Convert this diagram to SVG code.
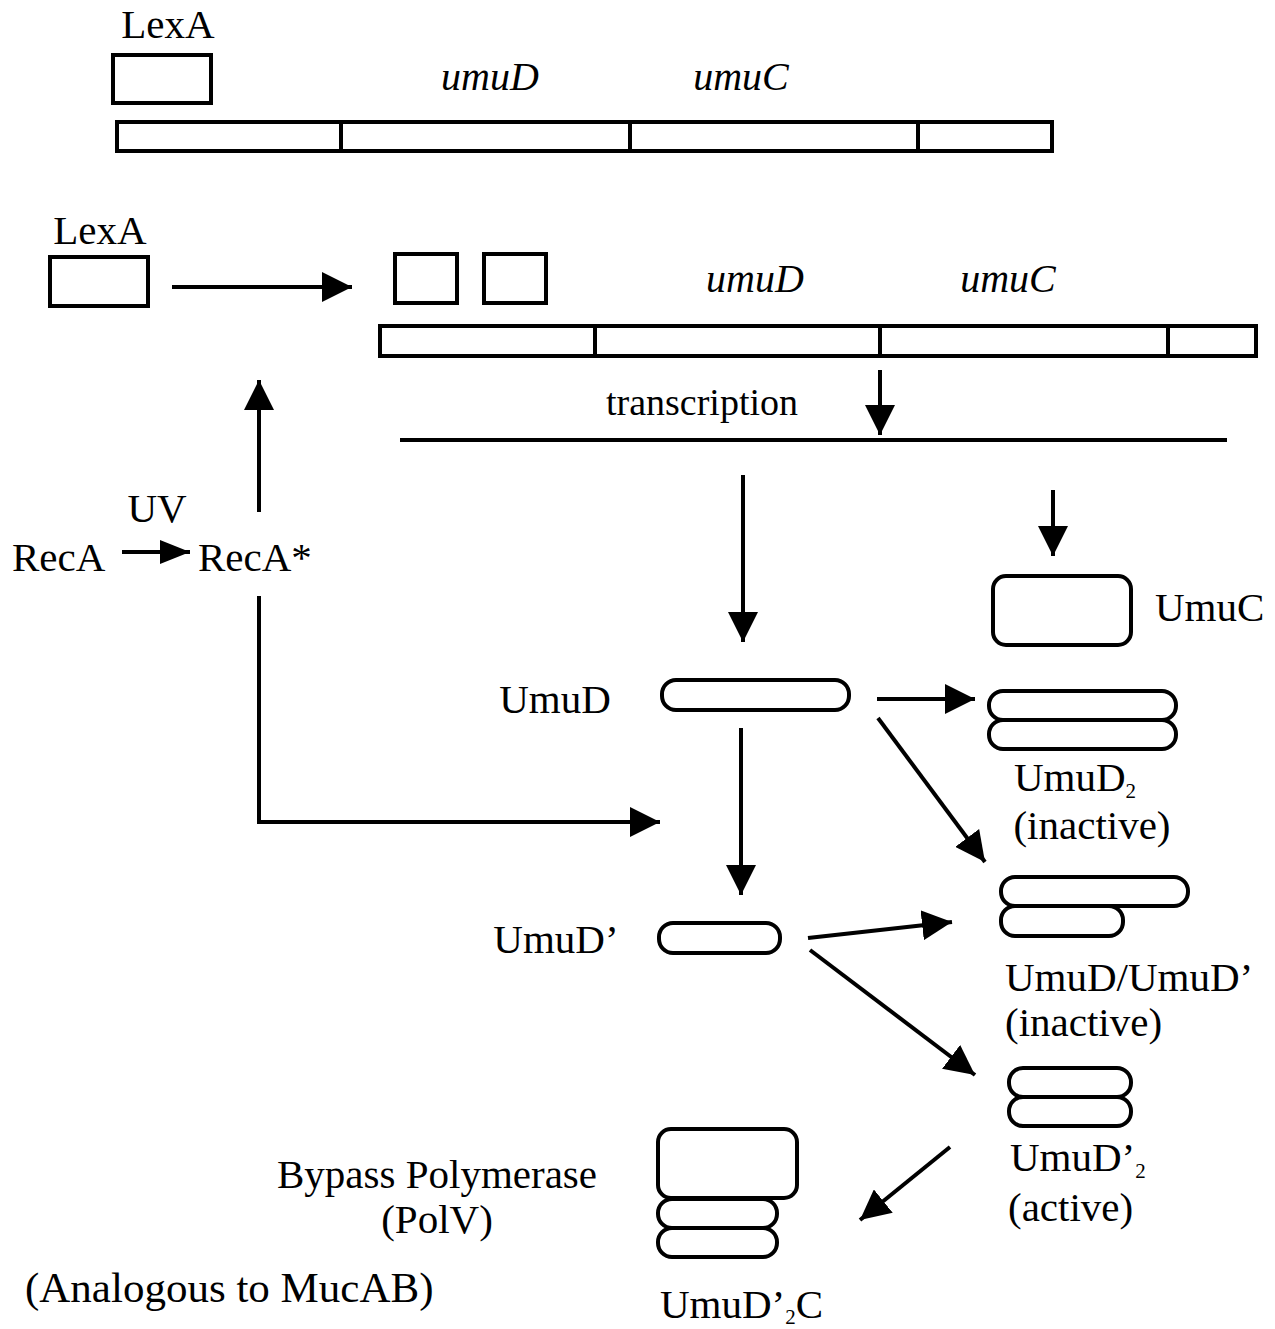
<svg xmlns="http://www.w3.org/2000/svg" width="1275" height="1329" viewBox="0 0 1275 1329">
  <defs>
    <marker id="head" viewBox="0 0 30 30" refX="30" refY="15" markerWidth="30" markerHeight="30" markerUnits="userSpaceOnUse" orient="auto">
      <path d="M0,0 L30,15 L0,30 Z" fill="#000"/>
    </marker>
    <marker id="headS" viewBox="0 0 30 24" refX="30" refY="12" markerWidth="30" markerHeight="24" markerUnits="userSpaceOnUse" orient="auto">
      <path d="M0,0 L30,12 L0,24 Z" fill="#000"/>
    </marker>
  </defs>
  <style>
    text { font-family: "Liberation Serif", "Times New Roman", serif; font-size: 41px; fill: #000; }
    .it { font-style: italic; font-size: 40px; }
    .mid { text-anchor: middle; }
    .small { font-size: 38px; }
    .sub { font-size: 21px; }
    .box { fill: #fff; stroke: #000; stroke-width: 4; }
    .pill { fill: #fff; stroke: #000; stroke-width: 4; }
    .ln { fill: none; stroke: #000; stroke-width: 4; }
    .conn path, .conn line { fill: none; stroke: #000; stroke-width: 4; marker-end: url(#head); }
  </style>
  <rect width="1275" height="1329" fill="#fff"/>

  <!-- repressed operon -->
  <g id="lexa-bound">
    <text x="168" y="38" class="mid">LexA</text>
    <rect x="113" y="55" width="98" height="48" class="box"/>
  </g>
  <g id="operon-repressed">
    <text x="490" y="90" class="mid it">umuD</text>
    <text x="741" y="90" class="mid it">umuC</text>
    <rect x="117" y="122" width="935" height="29" class="box"/>
    <line x1="341" y1="122" x2="341" y2="151" class="ln"/>
    <line x1="630" y1="122" x2="630" y2="151" class="ln"/>
    <line x1="918" y1="122" x2="918" y2="151" class="ln"/>
  </g>

  <!-- induced operon -->
  <g id="lexa-free">
    <text x="100" y="244" class="mid">LexA</text>
    <rect x="50" y="257" width="98" height="49" class="box"/>
  </g>
  <g id="lexa-cleaved">
    <rect x="395" y="254" width="62" height="49" class="box"/>
    <rect x="484" y="254" width="62" height="49" class="box"/>
  </g>
  <g id="operon-induced">
    <text x="755" y="292" class="mid it">umuD</text>
    <text x="1008" y="292" class="mid it">umuC</text>
    <rect x="380" y="326" width="876" height="30" class="box"/>
    <line x1="595" y1="326" x2="595" y2="356" class="ln"/>
    <line x1="880" y1="326" x2="880" y2="356" class="ln"/>
    <line x1="1168" y1="326" x2="1168" y2="356" class="ln"/>
  </g>
  <g id="transcript">
    <text x="702" y="415" class="mid small">transcription</text>
    <line x1="400" y1="440" x2="1227" y2="440" class="ln"/>
  </g>

  <!-- RecA activation -->
  <g id="reca">
    <text x="12" y="571">RecA</text>
  </g>
  <g id="uv">
    <text x="157" y="522" class="mid">UV</text>
  </g>
  <g id="reca-star">
    <text x="198" y="571">RecA*</text>
  </g>

  <!-- proteins -->
  <g id="umuc">
    <rect x="993" y="576" width="138" height="69" rx="13" class="box"/>
    <text x="1155" y="621">UmuC</text>
  </g>
  <g id="umud">
    <text x="555" y="713" class="mid">UmuD</text>
    <rect x="662" y="680" width="187" height="30" rx="14" class="pill"/>
  </g>
  <g id="umud2">
    <rect x="989" y="691" width="187" height="29" rx="14" class="pill"/>
    <rect x="989" y="720" width="187" height="29" rx="14" class="pill"/>
    <text x="1014" y="791">UmuD<tspan class="sub" dy="7">2</tspan></text>
    <text x="1092" y="839" class="mid">(inactive)</text>
  </g>
  <g id="umud-prime">
    <text x="556" y="953" class="mid">UmuD’</text>
    <rect x="659" y="923" width="121" height="30" rx="14" class="pill"/>
  </g>
  <g id="umud-heterodimer">
    <rect x="1001" y="877" width="187" height="29" rx="14" class="pill"/>
    <rect x="1001" y="906" width="122" height="30" rx="14" class="pill"/>
    <text x="1005" y="991">UmuD/UmuD’</text>
    <text x="1005" y="1036">(inactive)</text>
  </g>
  <g id="umud-prime2">
    <rect x="1009" y="1068" width="122" height="29" rx="14" class="pill"/>
    <rect x="1009" y="1097" width="122" height="29" rx="14" class="pill"/>
    <text x="1010" y="1171">UmuD’<tspan class="sub" dy="7">2</tspan></text>
    <text x="1008" y="1221">(active)</text>
  </g>
  <g id="polv">
    <rect x="658" y="1129" width="139" height="69" rx="13" class="box"/>
    <rect x="658" y="1199" width="119" height="29" rx="14" class="pill"/>
    <rect x="658" y="1228" width="119" height="29" rx="14" class="pill"/>
    <text x="660" y="1318">UmuD’<tspan class="sub" dy="6">2</tspan><tspan dy="-6">C</tspan></text>
  </g>
  <g id="polv-label">
    <text x="437" y="1188" class="mid">Bypass Polymerase</text>
    <text x="437" y="1233" class="mid">(PolV)</text>
    <text x="25" y="1302" style="font-size:43px">(Analogous to MucAB)</text>
  </g>

  <!-- connectors -->
  <g id="connectors" class="conn">
    <line x1="172" y1="287" x2="352" y2="287"/>
    <line x1="880" y1="370" x2="880" y2="435"/>
    <line x1="259" y1="512" x2="259" y2="380"/>
    <line x1="122" y1="552" x2="190" y2="552" style="marker-end:url(#headS)"/>
    <path d="M259,596 L259,822 L660,822"/>
    <line x1="743" y1="475" x2="743" y2="642"/>
    <line x1="1053" y1="490" x2="1053" y2="556"/>
    <line x1="877" y1="699" x2="975" y2="699"/>
    <line x1="878" y1="718" x2="985" y2="862"/>
    <line x1="741" y1="728" x2="741" y2="895"/>
    <line x1="808" y1="938" x2="952" y2="922"/>
    <line x1="810" y1="950" x2="975" y2="1075"/>
    <line x1="950" y1="1147" x2="860" y2="1220"/>
  </g>
</svg>
